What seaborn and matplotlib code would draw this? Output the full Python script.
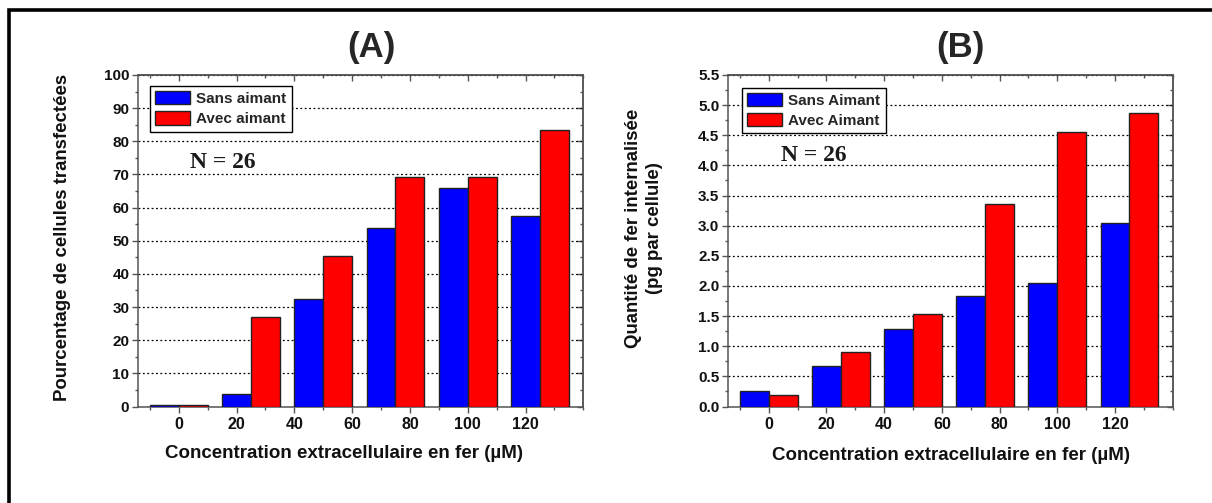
import numpy as np
import pandas as pd
import matplotlib
matplotlib.use("Agg")
import matplotlib.pyplot as plt
from matplotlib.patches import Rectangle
from matplotlib.ticker import MultipleLocator
import seaborn as sns

# ---------------- data ----------------
concentrations = [0, 25, 50, 75, 100, 125]
pct_sans = [0.6, 3.8, 32.3, 53.8, 65.9, 57.6]
pct_avec = [0.6, 27.1, 45.5, 69.1, 69.1, 83.3]
fer_sans = [0.26, 0.67, 1.28, 1.84, 2.05, 3.04]
fer_avec = [0.19, 0.91, 1.53, 3.36, 4.56, 4.87]
labels_A = ["Sans aimant", "Avec aimant"]
labels_B = ["Sans Aimant", "Avec Aimant"]
x_ticks = [0, 20, 40, 60, 80, 100, 120]
yticks_A = list(range(0, 101, 10))
yticks_B = [0.0, 0.5, 1.0, 1.5, 2.0, 2.5, 3.0, 3.5, 4.0, 4.5, 5.0, 5.5]
title_A = "(A)"
title_B = "(B)"
ylabel_A = "Pourcentage de cellules transfectées"
ylabel_B = "Quantité de fer internalisée\n(pg par cellule)"
xlabel = "Concentration extracellulaire en fer (µM)"
n_text = "N = 26"

sns.set_theme(style="white")
plt.rcParams["font.family"] = ["Liberation Sans", "DejaVu Sans"]

W, H = 1212, 503
fig = plt.figure(figsize=(W / 100, H / 100), dpi=100)

def fx(px):
    return px / W

def fy(py):
    return 1 - py / H

SPINE = "#555555"
colors = ["#0000FF", "#FF0000"]


def make_df(sans, avec, labels):
    return pd.DataFrame({
        "conc": concentrations * 2,
        "value": list(sans) + list(avec),
        "cond": [labels[0]] * len(sans) + [labels[1]] * len(avec),
    })


def panel(rect, sans, avec, labels, yticks, ymax, ymaj, ymin_step, n_pos, leg_anchor):
    ax = fig.add_axes(rect)
    df = make_df(sans, avec, labels)
    sns.barplot(data=df, x="conc", y="value", hue="cond", native_scale=True,
                palette=colors, edgecolor="#222222", linewidth=1.0, width=0.8,
                errorbar=None, saturation=1, ax=ax, legend=True, zorder=3)
    ax.set_xlim(-14, 140)
    ax.set_ylim(0, ymax)
    ax.set_xticks(x_ticks)
    ax.set_xticklabels([str(t) for t in x_ticks])
    ax.xaxis.set_minor_locator(MultipleLocator(10))
    ax.set_yticks(yticks)
    if ymaj >= 1:
        ax.set_yticklabels([str(int(t)) for t in yticks])
    else:
        ax.set_yticklabels([f"{t:.1f}" for t in yticks])
    ax.yaxis.set_minor_locator(MultipleLocator(ymin_step))
    ax.set_xlabel("")
    ax.set_ylabel("")
    for s in ax.spines.values():
        s.set_visible(True)
        s.set_color(SPINE)
        s.set_linewidth(1.1)
    ax.tick_params(axis="both", which="major", direction="out", length=4.5, width=1.0,
                   color=SPINE, pad=2, top=False, right=False,
                   bottom=True, left=True)
    ax.tick_params(axis="x", which="major", labelsize=11.5, pad=3)
    ax.tick_params(axis="y", which="major", labelsize=11)
    ax.tick_params(axis="both", which="minor", direction="out", length=2.5, width=1.0,
                   color=SPINE, top=False, right=False, bottom=True, left=True)
    for lab in ax.get_xticklabels() + ax.get_yticklabels():
        lab.set_fontweight("bold")
        lab.set_color("#111111")
    ax.yaxis.grid(True, which="major", linestyle=(0, (1.5, 2.0)), color="black", linewidth=0.9)
    ax.xaxis.grid(False)
    ax.set_axisbelow(True)
    # mirrored ticks pointing inward
    sec_x = ax.secondary_xaxis("top")
    sec_x.set_xticks(x_ticks)
    sec_x.xaxis.set_minor_locator(MultipleLocator(10))
    sec_x.tick_params(which="major", direction="in", length=4.5, width=1.0, color=SPINE, labeltop=False)
    sec_x.tick_params(which="minor", direction="in", length=2.5, width=1.0, color=SPINE)
    sec_x.spines["top"].set_color(SPINE)
    sec_x.spines["top"].set_linewidth(1.1)
    sec_y = ax.secondary_yaxis("right")
    sec_y.set_yticks(yticks)
    sec_y.yaxis.set_minor_locator(MultipleLocator(ymin_step))
    sec_y.tick_params(which="major", direction="in", length=4.5, width=1.0, color=SPINE, labelright=False)
    sec_y.tick_params(which="minor", direction="in", length=2.5, width=1.0, color=SPINE)
    sec_y.spines["right"].set_color(SPINE)
    sec_y.spines["right"].set_linewidth(1.1)

    handles, labs = ax.get_legend_handles_labels()
    leg = ax.legend(handles, labs, loc="upper left", bbox_to_anchor=leg_anchor,
                    frameon=True, fancybox=False, framealpha=1, edgecolor="black",
                    prop={"weight": "bold", "size": 11}, handlelength=2.3,
                    handleheight=0.95, handletextpad=0.4, labelspacing=0.35,
                    borderpad=0.35, borderaxespad=0)
    leg.get_frame().set_linewidth(1.0)
    leg.set_zorder(10)
    ax.text(n_pos[0], n_pos[1], n_text, family=["Liberation Serif"], fontweight="bold",
            fontsize=17, color="#1a1a1a", ha="center", va="center", zorder=5)
    return ax


axA = panel([fx(138.3), fy(406.5), fx(583.3) - fx(138.3), fy(75) - fy(406.5)],
            pct_sans, pct_avec, labels_A, yticks_A, 100, 10, 5, (15.4, 73.5), (0.026, 0.967))
axB = panel([fx(728.3), fy(406.5), fx(1172.7) - fx(728.3), fy(75) - fy(406.5)],
            fer_sans, fer_avec, labels_B, yticks_B, 5.5, 0.5, 0.25, (15.8, 4.17), (0.030, 0.962))

# titles and axis labels
fig.text(fx(371), fy(47), title_A, ha="center", va="center", fontsize=25, fontweight="bold")
fig.text(fx(960), fy(47), title_B, ha="center", va="center", fontsize=25, fontweight="bold")
fig.text(fx(62.4), fy(237), ylabel_A, rotation=90, ha="center", va="center",
         fontsize=13.4, fontweight="bold", color="#111111")
fig.text(fx(644), fy(228), ylabel_B, rotation=90, ha="center", va="center",
         fontsize=13.4, fontweight="bold", color="#111111", linespacing=1.3, multialignment="center")
fig.text(fx(344), fy(453), xlabel, ha="center", va="center", fontsize=13.5, fontweight="bold", color="#111111")
fig.text(fx(951), fy(455), xlabel, ha="center", va="center", fontsize=13.5, fontweight="bold", color="#111111")

# outer frame (cropped on right and bottom in the reference)
fig.patches.append(Rectangle((fx(9.2), -0.2), 1.5, fy(10.3) + 0.2, transform=fig.transFigure,
                             fill=False, edgecolor="black", linewidth=2.6, zorder=20))

fig.savefig("out.png", dpi=100)
